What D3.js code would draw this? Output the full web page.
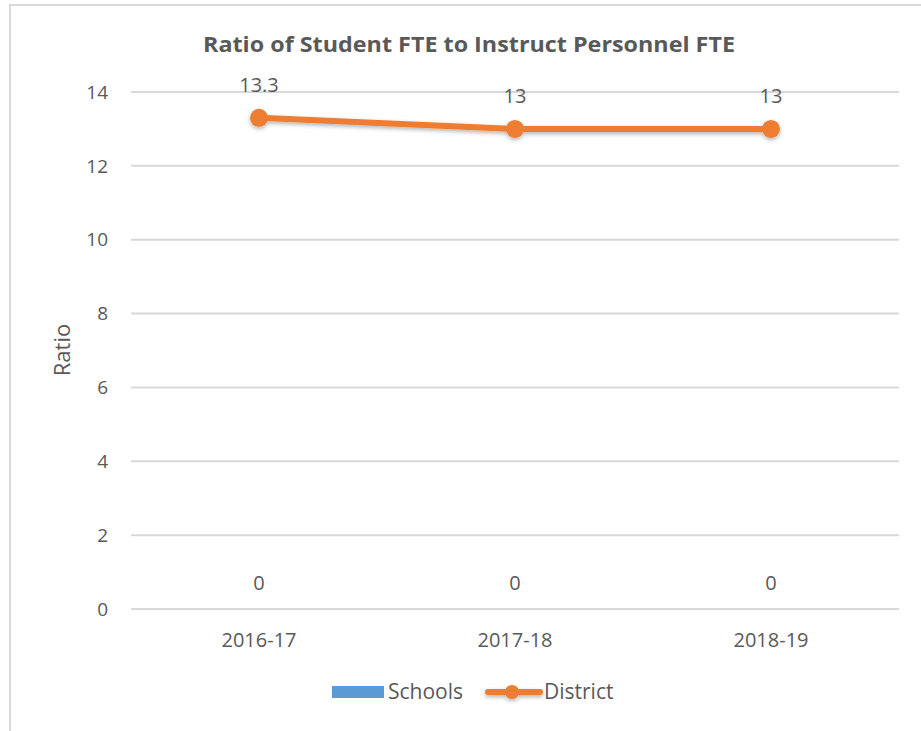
<!DOCTYPE html>
<html>
<head>
<meta charset="utf-8">
<script src="https://cdn.jsdelivr.net/npm/d3@7"></script>
<style>
	body { margin: 0; background: #fff; }
	text { font-family: "Open Sans", "Noto Sans", sans-serif; fill: #595959; }
</style>
</head>
<body>
<div id="chart"></div>
<script>
var years = ["2016-17", "2017-18", "2018-19"];
var schools = [0, 0, 0];
var district = [13.3, 13, 13];
var yTicks = [0, 2, 4, 6, 8, 10, 12, 14];

var W = 921, H = 731;
var svg = d3.select("#chart").append("svg").attr("width", W).attr("height", H);

// outer frame (only top and left visible)
svg.append("line").attr("x1", 9).attr("x2", W).attr("y1", 5).attr("y2", 5)
	.attr("stroke", "#d9d9d9").attr("stroke-width", 2);
svg.append("line").attr("x1", 10).attr("x2", 10).attr("y1", 5).attr("y2", H)
	.attr("stroke", "#d9d9d9").attr("stroke-width", 2);

var x = d3.scaleBand().domain(years).range([131, 899]);
var y = d3.scaleLinear().domain([0, 14]).range([609, 92]);

var shadow = svg.append("defs").append("filter").attr("id", "sh")
	.attr("x", "-20%").attr("y", "-20%").attr("width", "140%").attr("height", "160%");
shadow.append("feDropShadow").attr("dx", 0).attr("dy", 2).attr("stdDeviation", 2)
	.attr("flood-color", "#000").attr("flood-opacity", 0.3);

// gridlines
svg.selectAll("line.grid").data(yTicks).enter().append("line")
	.attr("class", "grid")
	.attr("x1", 131).attr("x2", 899)
	.attr("y1", function (d) { return y(d); }).attr("y2", function (d) { return y(d); })
	.attr("stroke", "#d9d9d9").attr("stroke-width", 2);

// y tick labels
svg.selectAll("text.ytick").data(yTicks).enter().append("text")
	.attr("class", "ytick")
	.attr("x", 108).attr("y", function (d) { return y(d); })
	.attr("dy", "0.35em").attr("text-anchor", "end")
	.attr("font-size", 19)
	.text(function (d) { return d; });

// x tick labels
svg.selectAll("text.xtick").data(years).enter().append("text")
	.attr("class", "xtick")
	.attr("x", function (d) { return x(d) + x.bandwidth() / 2; })
	.attr("y", 640).attr("dy", "0.35em").attr("text-anchor", "middle")
	.attr("font-size", 20)
	.text(function (d) { return d; });

// axis title
svg.append("text").attr("transform", "translate(62,350) rotate(-90)")
	.attr("text-anchor", "middle").attr("dy", "0.35em")
	.attr("font-size", 22).text("Ratio");

// chart title
svg.append("text").attr("x", 469).attr("y", 44).attr("dy", "0.35em")
	.attr("text-anchor", "middle").attr("font-size", 22).attr("font-weight", "bold")
	.attr("textLength", 532).attr("lengthAdjust", "spacingAndGlyphs")
	.text("Ratio of Student FTE to Instruct Personnel FTE");

// schools bars (zero height) and their labels
var bw = 50;
svg.selectAll("rect.school").data(schools).enter().append("rect")
	.attr("class", "school")
	.attr("x", function (d, i) { return x(years[i]) + x.bandwidth() / 2 - bw / 2; })
	.attr("y", function (d) { return y(d); })
	.attr("width", bw)
	.attr("height", function (d) { return y(0) - y(d); })
	.attr("fill", "#5b9bd5");
svg.selectAll("text.slabel").data(schools).enter().append("text")
	.attr("class", "slabel")
	.attr("x", function (d, i) { return x(years[i]) + x.bandwidth() / 2; })
	.attr("y", function (d) { return y(d) - 26; })
	.attr("dy", "0.35em").attr("text-anchor", "middle").attr("font-size", 20)
	.text(function (d) { return d; });

// district line
var line = d3.line()
	.x(function (d, i) { return x(years[i]) + x.bandwidth() / 2; })
	.y(function (d) { return y(d); });
var g = svg.append("g").attr("filter", "url(#sh)");
g.append("path").datum(district).attr("d", line)
	.attr("fill", "none").attr("stroke", "#ed7d31").attr("stroke-width", 6)
	.attr("stroke-linecap", "round");
g.selectAll("circle").data(district).enter().append("circle")
	.attr("cx", function (d, i) { return x(years[i]) + x.bandwidth() / 2; })
	.attr("cy", function (d) { return y(d); })
	.attr("r", 9).attr("fill", "#ed7d31");
svg.selectAll("text.dlabel").data(district).enter().append("text")
	.attr("class", "dlabel")
	.attr("x", function (d, i) { return x(years[i]) + x.bandwidth() / 2; })
	.attr("y", function (d) { return y(d) - 33; })
	.attr("dy", "0.35em").attr("text-anchor", "middle").attr("font-size", 20)
	.text(function (d) { return d; });

// legend
var lg = svg.append("g").attr("transform", "translate(0,692)");
lg.append("rect").attr("x", 332).attr("y", -6).attr("width", 52).attr("height", 12)
	.attr("fill", "#5b9bd5");
lg.append("text").attr("x", 388).attr("y", 0).attr("dy", "0.35em")
	.attr("font-size", 21).text("Schools");
var lgl = lg.append("g").attr("filter", "url(#sh)");
lgl.append("line").attr("x1", 488).attr("x2", 540).attr("y1", 0).attr("y2", 0)
	.attr("stroke", "#ed7d31").attr("stroke-width", 6).attr("stroke-linecap", "round");
lgl.append("circle").attr("cx", 512).attr("cy", 0).attr("r", 7).attr("fill", "#ed7d31");
lg.append("text").attr("x", 544).attr("y", 0).attr("dy", "0.35em")
	.attr("font-size", 21).text("District");
</script>
</body>
</html>
